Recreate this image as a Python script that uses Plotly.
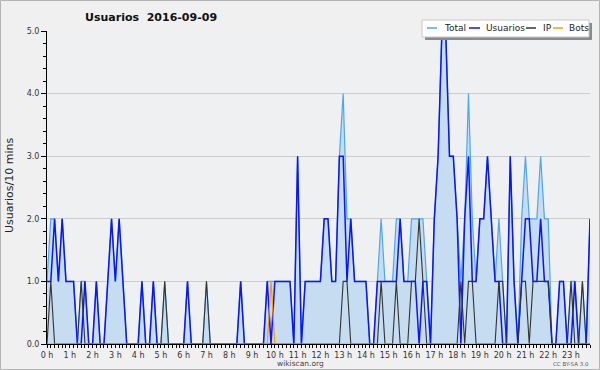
import plotly.graph_objects as go

# ---- data (10-minute slots, 144 per day) ----
usuarios = [1,1,2,1,2,1, 1,1,0,0,1,0, 0,1,0,0,1,2, 1,2,1,0,0,0,
            0,1,0,0,1,0, 0,0,0,0,0,0, 0,1,0,0,0,0, 0,0,0,0,0,0,
            0,0,0,1,0,0, 0,0,0,0,1,0, 1,1,1,1,1,0, 3,0,1,1,1,1,
            1,2,2,1,1,3, 3,1,2,1,1,1, 1,0,0,1,1,1, 1,1,1,2,1,1,
            1,1,0,1,1,0, 2,3,5,5,3,3, 2,0,2,3,1,1, 2,2,3,2,1,1,
            0,0,3,1,0,1, 2,2,1,1,2,1, 1,0,0,1,1,0, 0,1,0,0,0,2]
ip = [0,1,0,0,0,0, 0,0,0,1,0,0, 0,0,0,0,0,0, 0,0,0,0,0,0,
      0,0,0,0,0,0, 0,1,0,0,0,0, 0,0,0,0,0,0, 1,0,0,0,0,0,
      0,0,0,0,0,0, 0,0,0,0,0,0, 0,0,0,0,0,0, 0,0,0,0,0,0,
      0,0,0,0,0,0, 1,1,0,0,0,0, 0,0,0,0,1,0, 0,0,1,0,0,0,
      1,1,2,1,0,0, 0,0,0,0,0,0, 0,1,0,1,1,0, 0,0,0,0,0,1,
      1,0,0,0,0,1, 1,0,1,1,1,1, 1,0,0,0,0,0, 1,0,0,1,0,0]
bots = [0]*59 + [1] + [0]*84
total = [1,2,2,1,2,1, 1,1,0,1,1,0, 0,1,0,0,1,2, 1,2,1,0,0,0,
         0,1,0,0,1,0, 0,1,0,0,0,0, 0,1,0,0,0,0, 1,0,0,0,0,0,
         0,0,0,1,0,0, 0,0,0,0,1,1, 1,1,1,1,1,0, 3,0,1,1,1,1,
         1,2,2,1,1,3, 4,2,2,1,1,1, 1,0,0,1,2,1, 1,1,2,2,1,1,
         2,2,2,2,1,0, 2,3,5,5,3,3, 2,1,2,4,2,1, 2,2,3,2,1,2,
         1,0,3,1,0,2, 3,2,2,2,3,2, 2,0,0,1,1,0, 1,1,0,1,0,2]
hours = [i / 6 for i in range(len(total))]
hour_ticks = list(range(24))
hour_labels = [f"{h} h" for h in hour_ticks]

# ---- layout geometry (pixels) ----
W, H = 600, 370
L, R, T, B = 47, 10, 31, 26
PW, PH = W - L - R, H - T - B

def px(x):
    return (x - L) / PW

def py(y):
    return (H - B - y) / PH

FONT = "DejaVu Sans"

fig = go.Figure()
fig.add_trace(go.Scatter(x=hours, y=total, mode="lines", name="Total",
                         line=dict(color="#4ea6f2", width=1.2),
                         fill="tozeroy", fillcolor="#c6dcf0"))
fig.add_trace(go.Scatter(x=hours, y=usuarios, mode="lines", name="Usuarios",
                         line=dict(color="#0a14ff", width=1.5)))
fig.add_trace(go.Scatter(x=hours, y=ip, mode="lines", name="IP",
                         line=dict(color="#333333", width=1.1)))
fig.add_trace(go.Scatter(x=hours, y=bots, mode="lines", name="Bots",
                         line=dict(color="#ff9a00", width=1.2)))

shapes = []
# outer border
shapes.append(dict(type="rect", xref="paper", yref="paper",
                   x0=px(0.5), x1=px(599.5), y0=py(369.5), y1=py(0.5),
                   line=dict(color="#b4b4b4", width=1), layer="below"))
# legend shadow and box
shapes.append(dict(type="rect", xref="paper", yref="paper",
                   x0=px(425), x1=px(592), y0=py(40), y1=py(23),
                   fillcolor="#8a8a8a", line=dict(width=0)))
shapes.append(dict(type="rect", xref="paper", yref="paper",
                   x0=px(422), x1=px(589), y0=py(37), y1=py(20),
                   fillcolor="#ffffff", line=dict(color="#c8c8c8", width=1)))

annotations = []
leg_items = [("Total", "#4ea6f2", 427, 437, 442),
             ("Usuarios", "#0a14ff", 469, 480, 484),
             ("IP", "#333333", 526, 536, 541),
             ("Bots", "#ff9a00", 553, 563, 567)]
for name, col, lx0, lx1, tx in leg_items:
    shapes.append(dict(type="line", xref="paper", yref="paper",
                       x0=px(lx0), x1=px(lx1), y0=py(28), y1=py(28),
                       line=dict(color=col, width=1.5)))
    annotations.append(dict(text=name, xref="paper", yref="paper",
                            x=px(tx), y=py(28), xanchor="left", yanchor="middle",
                            showarrow=False, font=dict(family=FONT, size=9, color="#222")))

annotations.append(dict(text="<b>Usuarios  2016-09-09</b>", xref="paper", yref="paper",
                        x=px(151), y=py(17), xanchor="center", yanchor="middle",
                        showarrow=False, font=dict(family=FONT, size=11, color="#111")))
annotations.append(dict(text="Usuarios/10 mins", xref="paper", yref="paper",
                        x=px(9), y=py(186), xanchor="center", yanchor="middle",
                        textangle=-90, showarrow=False,
                        font=dict(family=FONT, size=11, color="#222")))
annotations.append(dict(text="wikiscan.org", xref="paper", yref="paper",
                        x=px(300), y=py(363), xanchor="center", yanchor="middle",
                        showarrow=False, font=dict(family=FONT, size=7.5, color="#444")))
annotations.append(dict(text="CC BY-SA 3.0", xref="paper", yref="paper",
                        x=px(571), y=py(364), xanchor="center", yanchor="middle",
                        showarrow=False, font=dict(family=FONT, size=5.5, color="#555")))

fig.update_layout(
    width=W, height=H,
    margin=dict(l=L, r=R, t=T, b=B, pad=0),
    paper_bgcolor="#f0f0f0", plot_bgcolor="#eff0f2",
    showlegend=False,
    font=dict(family=FONT, size=8, color="#222"),
    shapes=shapes, annotations=annotations,
    xaxis=dict(range=[0, hours[-1]], tickmode="array", tickvals=hour_ticks,
               ticktext=hour_labels, ticks="outside", ticklen=3, tickcolor="#000",
               showline=True, linecolor="#000", linewidth=1, showgrid=False,
               zeroline=False, tickfont=dict(family=FONT, size=8, color="#333"),
               minor=dict(tickmode="linear", tick0=0, dtick=1/6, ticks="outside",
                          ticklen=3, tickcolor="#000", showgrid=False)),
    yaxis=dict(range=[0, 5], dtick=1, tickformat=".1f", ticks="outside",
               ticklen=5, tickcolor="#000", showline=True, linecolor="#000",
               linewidth=1, gridcolor="#cccccc", gridwidth=1, zeroline=False,
               tickfont=dict(family=FONT, size=8, color="#333"),
               minor=dict(dtick=0.2, ticks="outside", ticklen=3, tickcolor="#000",
                          showgrid=False)),
)

fig.write_html("out.html", config={"displayModeBar": False},
               post_script="document.body.style.margin='0';document.body.style.padding='0';")
